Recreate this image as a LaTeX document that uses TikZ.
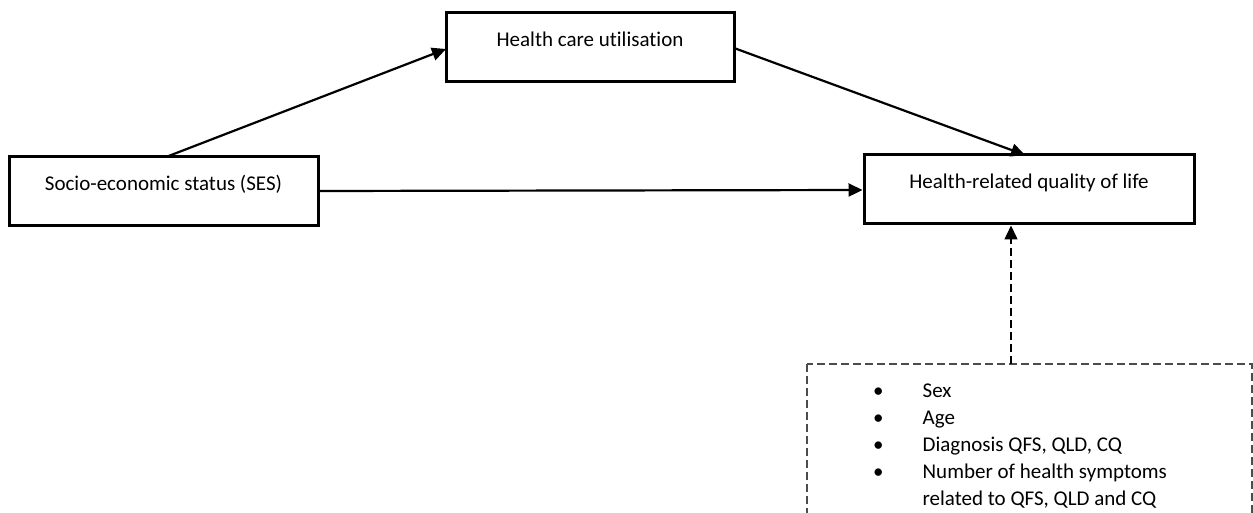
\documentclass[tikz,border=0pt]{standalone}
\usepackage{fontspec}
\setmainfont{Carlito}[Ligatures=NoCommon]
\usetikzlibrary{arrows.meta}
\begin{document}
\begin{tikzpicture}[x=1pt,y=-1pt,
  box/.style={draw=black,line width=3pt,fill=white,inner sep=0pt,
    font=\fontsize{21}{25}\selectfont,text height=15pt,text depth=17pt,
    minimum height=69pt},
  arr/.style={line width=2.2pt,-{Triangle[length=14pt,width=13pt]}},
  darr/.style={line width=1.5pt,dash pattern=on 8pt off 4pt,-{Triangle[length=14pt,width=13pt]}},
  covbox/.style={draw=black!70,line width=1.5pt,dash pattern=on 8pt off 4pt,
    inner sep=0pt,anchor=north west,font=\fontsize{21}{27}\selectfont}]
\useasboundingbox (0,0) rectangle (1253,513);
\clip (0,0) rectangle (1253,513);
\node[box,minimum width=309pt] (ses) at (163.5,191.5) {Socio-economic status (SES)};
\node[box,minimum width=288pt] (hcu) at (590,47.5) {Health care utilisation};
\node[box,minimum width=330pt] (hrql) at (1029,189.5) {Health-related quality of life};
\draw[covbox] (807,364) rectangle (1252,540);
\node[anchor=north west,inner sep=0pt,font=\fontsize{21}{26.8}\selectfont] (cov) at (873,379)
  {\begin{tabular}{@{}l@{\hspace{39pt}}l@{}}
   • & Sex\\
   • & Age\\
   • & Diagnosis QFS, QLD, CQ\\
   • & Number of health symptoms\\
     & related to QFS, QLD and CQ
   \end{tabular}};
\coordinate (ct) at (1011,364);
\coordinate (s1) at (166,157);
\coordinate (h1) at (446,49);
\coordinate (h2) at (734,48);
\coordinate (q1) at (1025,155);
\draw[arr] (s1) -- (h1);
\draw[arr] (h2) -- (q1);
\draw[arr] (ses.east |- 0,191) -- (hrql.west |- 0,190);
\draw[darr] (ct) -- (ct |- hrql.south);
\end{tikzpicture}
\end{document}
